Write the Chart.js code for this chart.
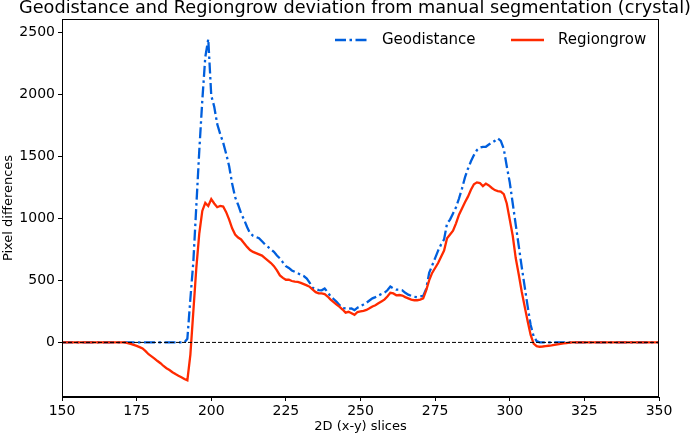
<!DOCTYPE html>
<html>
<head>
<meta charset="utf-8">
<script src="https://cdn.jsdelivr.net/npm/chart.js@4.4.1/dist/chart.umd.min.js"></script>
<style>
  html, body { margin: 0; padding: 0; background: #fff; }
  #chart { display: block; }
</style>
</head>
<body>
<canvas id="chart" width="692" height="435"></canvas>
<script>
// slice numbers (x axis)
const slices = [150, 160, 170,
  171, 172, 173, 174, 175, 176, 177, 178, 179, 180,
  181, 182, 183, 184, 185, 186, 187, 188, 189, 190,
  191, 192, 193, 194, 195, 196, 197, 198, 199, 200,
  201, 202, 203, 204, 205, 206, 207, 208, 209, 210,
  211, 212, 213, 214, 215, 216, 217, 218, 219, 220,
  221, 222, 223, 224, 225, 226, 227, 228, 229, 230,
  231, 232, 233, 234, 235, 236, 237, 238, 239, 240,
  241, 242, 243, 244, 245, 246, 247, 248, 249, 250,
  251, 252, 253, 254, 255, 256, 257, 258, 259, 260,
  261, 262, 263, 264, 265, 266, 267, 268, 269, 270,
  271, 272, 273, 274, 275, 276, 277, 278, 279, 280,
  281, 282, 283, 284, 285, 286, 287, 288, 289, 290,
  291, 292, 293, 294, 295, 296, 297, 298, 299, 300,
  301, 302, 303, 304, 305, 306, 307, 308, 309, 310,
  311, 312, 313, 314, 315, 316, 317, 318, 319, 320,
  321, 322, 330, 340, 350];

const geodistance = [0, 0, 0,
  0, 0, 0, 0, 0, 0, 0, 0, 0, 0,
  0, 0, 0, 0, 0, 0, 0, 0, 0, 0,
  0, 30, 350, 650, 1100, 1550, 1950, 2300, 2445, 1990,
  1900, 1760, 1680, 1610, 1520, 1420, 1280, 1170, 1110, 1040,
  990, 930, 880, 860, 850, 840, 815, 790, 770, 750,
  730, 700, 677, 645, 615, 600, 580, 569, 558, 545,
  535, 515, 480, 440, 430, 422, 420, 435, 405, 370,
  350, 327, 300, 278, 274, 272, 274, 260, 280, 292,
  305, 320, 338, 355, 365, 378, 390, 400, 420, 450,
  435, 425, 425, 420, 400, 385, 375, 368, 365, 370,
  375, 430, 560, 620, 680, 740, 790, 830, 960, 990,
  1040, 1090, 1160, 1240, 1330, 1400, 1460, 1510, 1550, 1570,
  1577, 1577, 1595, 1610, 1625, 1645, 1625, 1560, 1420, 1290,
  1120, 950, 780, 610, 450, 290, 140, 50, 10, 0,
  0, 0, 0, 0, 0, 0, 0, 0, 0, 0,
  0, 0, 0, 0, 0];

const regiongrow = [0, 0, 0,
  0, -5, -12, -20, -28, -38, -48, -70, -95, -112,
  -130, -150, -168, -190, -208, -222, -240, -255, -268, -280,
  -295, -305, -100, 250, 600, 880, 1060, 1125, 1100, 1155,
  1120, 1090, 1100, 1095, 1050, 990, 920, 870, 845, 830,
  800, 770, 745, 730, 720, 710, 700, 680, 660, 640,
  615, 580, 540, 520, 505, 505, 495, 490, 488, 480,
  470, 460, 448, 425, 405, 395, 395, 390, 370, 345,
  325, 305, 287, 265, 240, 247, 235, 222, 245, 250,
  255, 262, 275, 290, 300, 315, 330, 345, 370, 400,
  395, 380, 382, 378, 365, 355, 345, 340, 340, 345,
  355, 420, 500, 560, 600, 640, 690, 740, 840, 870,
  900, 960, 1030, 1080, 1130, 1175, 1230, 1275, 1290, 1285,
  1260, 1280, 1265, 1245, 1228, 1220, 1215, 1195, 1120, 990,
  860, 680, 550, 410, 290, 170, 60, -10, -30, -35,
  -33, -30, -27, -24, -20, -16, -12, -8, -5, -2,
  0, 0, 0, 0, 0];

const xTicks = [150, 175, 200, 225, 250, 275, 300, 325, 350];
const yTicks = [0, 500, 1000, 1500, 2000, 2500];
const zeroLine = [0, 0];
const zeroLineX = [150, 350];

const titleText = 'Geodistance and Regiongrow deviation from manual segmentation (crystal)';
const FONT = 'DejaVu Sans';

function pts(xs, ys) {
  return xs.map((x, i) => ({ x: x, y: ys[i] }));
}

// frame, title and legend drawn like the matplotlib figure
const extras = {
  id: 'extras',
  afterDraw(chart) {
    const ctx = chart.ctx;
    const a = chart.chartArea;
    ctx.save();
    ctx.strokeStyle = '#000';
    ctx.lineWidth = 1;
    ctx.strokeRect(a.left + 0.5, a.top + 0.5, a.right - a.left - 1, a.bottom - a.top - 1);

    ctx.fillStyle = '#000';
    ctx.font = '17.7px "' + FONT + '"';
    ctx.textAlign = 'center';
    ctx.textBaseline = 'alphabetic';
    ctx.fillText(titleText, 355, 13);

    // legend
    const items = [
      { label: 'Geodistance', color: '#005fdd', dash: [11, 3.5, 2.5, 3.5], x: 335 },
      { label: 'Regiongrow', color: '#ff2a00', dash: [], x: 511 }
    ];
    ctx.font = '15px "' + FONT + '"';
    ctx.textAlign = 'left';
    ctx.textBaseline = 'middle';
    items.forEach(it => {
      ctx.beginPath();
      ctx.setLineDash(it.dash);
      ctx.strokeStyle = it.color;
      ctx.lineWidth = 2.4;
      ctx.moveTo(it.x, 40);
      ctx.lineTo(it.x + 33, 40);
      ctx.stroke();
      ctx.setLineDash([]);
      ctx.fillStyle = '#000';
      ctx.fillText(it.label, it.x + 47, 40);
    });
    ctx.restore();
  }
};

const ctx = document.getElementById('chart').getContext('2d');
new Chart(ctx, {
  type: 'line',
  data: {
    datasets: [
      {
        label: 'zero',
        data: pts(zeroLineX, zeroLine),
        borderColor: '#000',
        borderWidth: 1,
        borderDash: [4, 2],
        pointRadius: 0,
        order: 0
      },
      {
        label: 'Regiongrow',
        data: pts(slices, regiongrow),
        borderColor: '#ff2a00',
        borderWidth: 2.3,
        pointRadius: 0,
        tension: 0,
        order: 1
      },
      {
        label: 'Geodistance',
        data: pts(slices, geodistance),
        borderColor: '#005fdd',
        borderWidth: 2.3,
        borderDash: [11, 3.5, 2.5, 3.5],
        pointRadius: 0,
        tension: 0,
        order: 2
      }
    ]
  },
  options: {
    responsive: false,
    animation: false,
    layout: { padding: { top: 19, right: 33, left: 0, bottom: 0 } },
    plugins: {
      legend: { display: false },
      tooltip: { enabled: false },
      title: { display: false }
    },
    scales: {
      x: {
        type: 'linear',
        min: 150,
        max: 350,
        afterBuildTicks: s => { s.ticks = xTicks.map(v => ({ value: v })); },
        afterFit: s => { s.height = 38; },
        grid: { drawOnChartArea: false, tickLength: 4, tickColor: '#000' },
        border: { display: true, color: '#000' },
        ticks: {
          color: '#000',
          padding: 2,
          maxRotation: 0,
          callback: v => String(v),
          font: { family: FONT, size: 14 }
        },
        title: {
          display: true,
          text: '2D (x-y) slices',
          color: '#000',
          padding: { top: 0, bottom: 1 },
          font: { family: FONT, size: 13 }
        }
      },
      y: {
        min: -440,
        max: 2607,
        afterBuildTicks: s => { s.ticks = yTicks.map(v => ({ value: v })); },
        afterFit: s => { s.width = 62; },
        grid: { drawOnChartArea: false, tickLength: 4, tickColor: '#000' },
        border: { display: true, color: '#000' },
        ticks: {
          color: '#000',
          padding: 3,
          callback: v => String(v),
          font: { family: FONT, size: 14 }
        },
        title: {
          display: true,
          text: 'Pixel differences',
          color: '#000',
          padding: { top: 1, bottom: 0 },
          font: { family: FONT, size: 13 }
        }
      }
    }
  },
  plugins: [extras]
});
</script>
</body>
</html>
